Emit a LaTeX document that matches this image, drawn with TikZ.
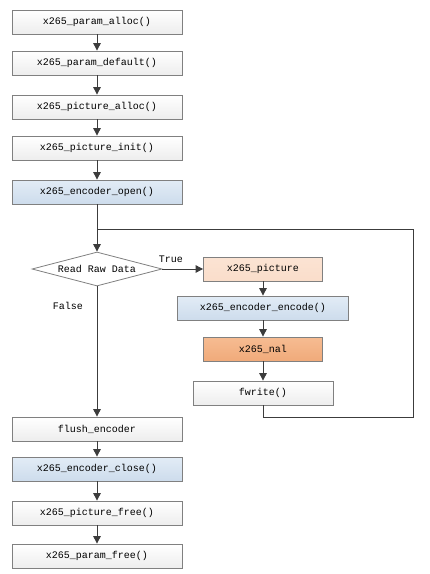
\documentclass[tikz,border=0pt]{standalone}
\usepackage{fontspec}
\setmonofont{Liberation Mono}
\usetikzlibrary{shapes.geometric,arrows.meta}

\definecolor{boxline}{RGB}{128,128,128}
\definecolor{flowline}{RGB}{60,60,60}
\definecolor{blueA}{RGB}{226,236,246}
\definecolor{blueB}{RGB}{205,220,236}
\definecolor{peach}{RGB}{251,227,211}
\definecolor{orangeA}{RGB}{246,188,146}
\definecolor{orangeB}{RGB}{240,170,122}

\tikzset{
  fbox/.style={draw=boxline, line width=0.8pt, minimum width=170pt, minimum height=24pt,
    inner sep=0pt, font=\ttfamily\normalsize, top color=white, bottom color=black!7},
  fboxblue/.style={fbox, top color=blueA, bottom color=blueB},
  flow/.style={draw=flowline, line width=0.9pt},
  arr/.style={flow, -{Triangle[length=7.5pt,width=7.5pt]}},
}

\begin{document}
\begin{tikzpicture}[x=1pt,y=1pt,yscale=-1]
\useasboundingbox (0,0) rectangle (430,574);

% main column
\node[fbox] (palloc) at (97,22) {x265\_param\_alloc()};
\node[fbox] (pdefault) at (97,63) {x265\_param\_default()};
\node[fbox] (picalloc) at (97,107) {x265\_picture\_alloc()};
\node[fbox] (picinit) at (97,148) {x265\_picture\_init()};
\node[fboxblue] (encopen) at (97,192) {x265\_encoder\_open()};

\coordinate (join) at (97,229);
\node[diamond, draw=boxline, line width=0.8pt, fill=white, aspect=4, inner sep=0pt,
  minimum width=130pt, minimum height=34pt, font=\ttfamily\normalsize] (read) at (97,269) {Read Raw Data};

% loop body
\node[fbox, minimum width=119pt, top color=peach, bottom color=peach!90!orangeB] (pic) at (263,269) {x265\_picture};
\node[fboxblue, minimum width=171pt] (encode) at (263,308) {x265\_encoder\_encode()};
\node[fbox, minimum width=119pt, top color=orangeA, bottom color=orangeB] (nal) at (263,349) {x265\_nal};
\node[fbox, minimum width=140pt] (fwrite) at (263,393) {fwrite()};

\coordinate (turnB) at (413,417);
\coordinate (turnT) at (413,229);

% closing column
\node[fbox] (flush) at (97,429) {flush\_encoder};
\node[fboxblue] (encclose) at (97,469) {x265\_encoder\_close()};
\node[fbox] (picfree) at (97,513) {x265\_picture\_free()};
\node[fbox] (pfree) at (97,556) {x265\_param\_free()};

\node[font=\ttfamily\normalsize] (truelbl) at (171,259) {True};
\node[font=\ttfamily\normalsize] (falselbl) at (68,306) {False};

\draw[arr] (palloc) -- (pdefault);
\draw[arr] (pdefault) -- (picalloc);
\draw[arr] (picalloc) -- (picinit);
\draw[arr] (picinit) -- (encopen);
\draw[arr] (encopen) -- (read);
\draw[arr] (read) -- (pic);
\draw[arr] (pic) -- (encode);
\draw[arr] (encode) -- (nal);
\draw[arr] (nal) -- (fwrite);
\draw[flow] (fwrite.south) |- (turnB) -- (turnT) -- (join);
\draw[arr] (read) -- (flush);
\draw[arr] (flush) -- (encclose);
\draw[arr] (encclose) -- (picfree);
\draw[arr] (picfree) -- (pfree);

\end{tikzpicture}
\end{document}
